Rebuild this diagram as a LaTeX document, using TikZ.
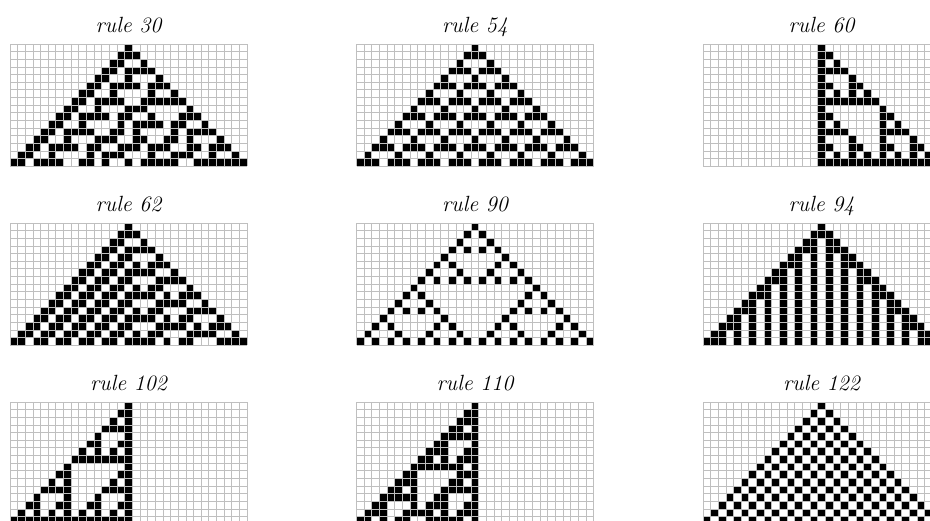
\documentclass[tikz,border=0pt]{standalone}
\usepackage{fontspec}
\usetikzlibrary{calc}

% one bit of a rule number: \cabit{rule}{index} -> \cab
\newcount\cabits
\newcommand\cabit[2]{%
  \cabits=#1\relax
  \divide\cabits by \ifcase\numexpr#2\relax 1\or 2\or 4\or 8\or 16\or 32\or 64\or 128\fi\relax
  \ifodd\cabits \gdef\cab{1}\else\gdef\cab{0}\fi}
\newcommand\getcell[3]{\csname ca-#1-#2-#3\endcsname}

\tikzset{
  cagrid/.style={draw=gray!50, line width=0.9pt},
  caon/.style={fill=black},
  calabel/.style={font=\itshape\fontsize{22}{22}\selectfont, anchor=base, inner sep=0pt}
}

\begin{document}
\begin{tikzpicture}[x=1pt,y=1pt]
\useasboundingbox (0,0) rectangle (930,-520);
\clip (0,0) rectangle (930,-520);

% run the nine automata, 16 steps on 31 cells
\foreach \r in {30,54,60,62,90,94,102,110,122} {
  \foreach \t in {0,...,15} {
    \expandafter\xdef\csname ca-\r-\t--1\endcsname{0}
    \expandafter\xdef\csname ca-\r-\t-31\endcsname{0}
  }
  \foreach \i in {0,...,30} {
    \expandafter\xdef\csname ca-\r-0-\i\endcsname{\ifnum\i=15 1\else 0\fi}
  }
  \foreach \t [evaluate=\t as \p using int(\t-1)] in {1,...,15} {
    \foreach \i [evaluate=\i as \l using int(\i-1), evaluate=\i as \q using int(\i+1)] in {0,...,30} {
      \edef\idx{\the\numexpr 4*\getcell{\r}{\p}{\l}+2*\getcell{\r}{\p}{\i}+\getcell{\r}{\p}{\q}\relax}
      \cabit{\r}{\idx}
      \expandafter\xdef\csname ca-\r-\t-\i\endcsname{\cab}
    }
  }
}

% panels
\def\cs{7.65}
\foreach \r [count=\k from 0] in {30,54,60,62,90,94,102,110,122} {
  \pgfmathsetmacro\gx{10+346.5*mod(\k,3)}
  \pgfmathsetmacro\gy{44+179*int(\k/3)}
  \node[calabel] (lbl\r) at (\gx+118.5,-\gy+12) {rule \r};
  \begin{scope}[shift={(\gx pt,-\gy pt)}, x=\cs pt, y=-\cs pt]
    \foreach \t in {0,...,15} {
      \foreach \i in {0,...,30} {
        \ifnum\getcell{\r}{\t}{\i}=1
          \fill[caon] (\i,\t) rectangle (\i+1,\t+1);
        \fi
      }
    }
    \foreach \i in {0,...,31} \draw[cagrid] (\i,0) -- (\i,16);
    \foreach \t in {0,...,16} \draw[cagrid] (0,\t) -- (31,\t);
  \end{scope}
}
\end{tikzpicture}
\end{document}
